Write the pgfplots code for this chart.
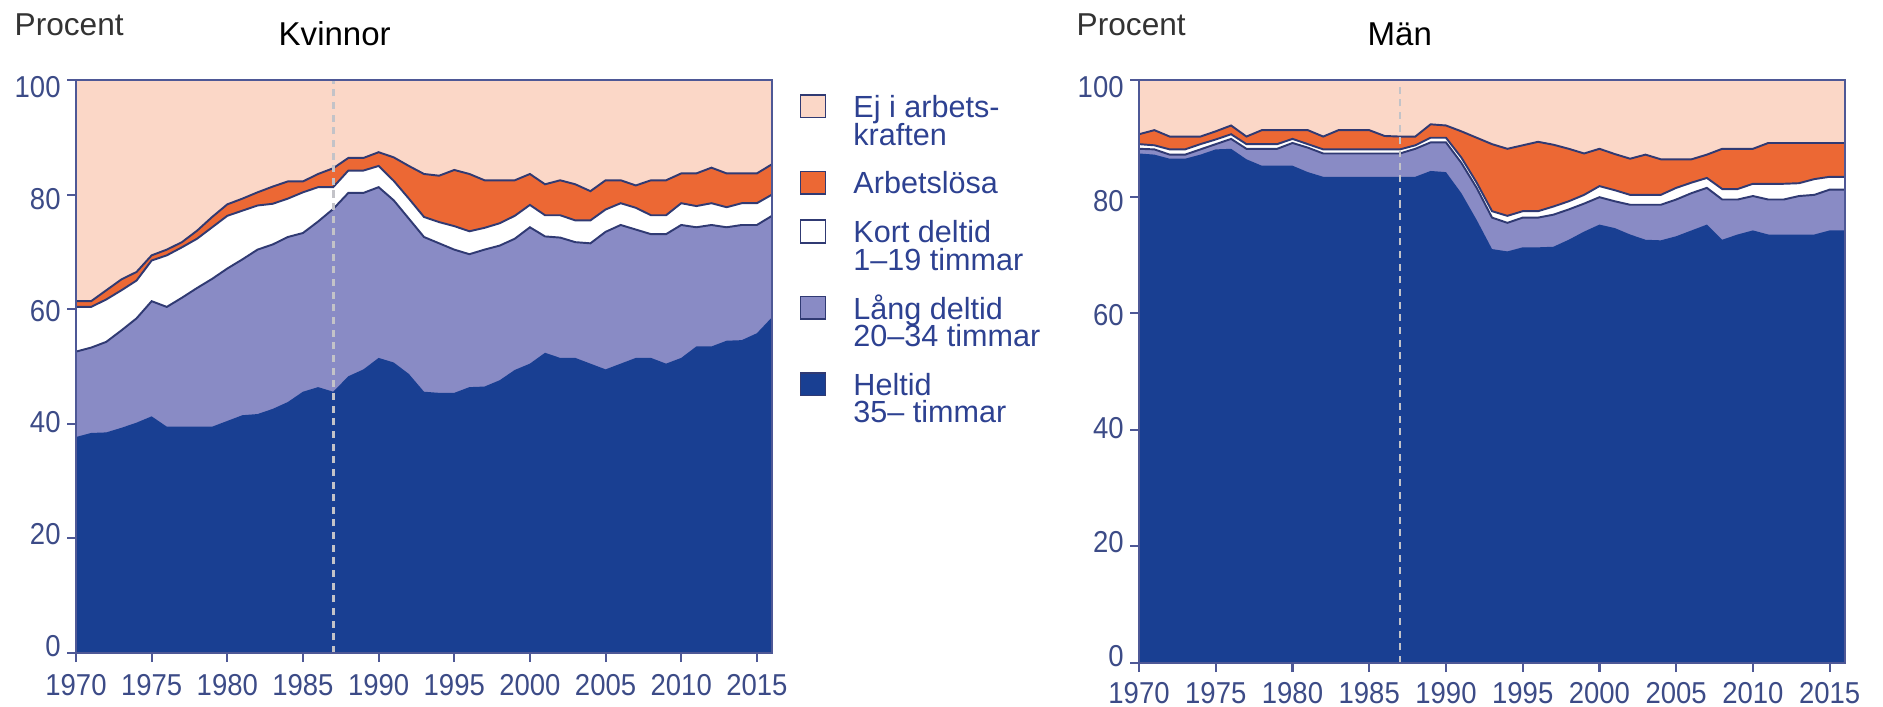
\documentclass[border=0pt]{standalone}
\usepackage{fontspec}
\setmainfont{Liberation Sans}
\newfontfamily\narrowfont[FakeStretch=0.91]{Liberation Sans}
\usepackage{pgfplots}
\pgfplotsset{compat=1.18}
\usepackage{pgfplotstable}

\definecolor{ejcol}{RGB}{251,215,199}
\definecolor{arbcol}{RGB}{236,104,52}
\definecolor{langcol}{RGB}{137,139,197}
\definecolor{helcol}{RGB}{25,63,146}
\definecolor{linecol}{RGB}{48,58,115}
\definecolor{axcol}{RGB}{78,88,150}
\definecolor{tickcol}{RGB}{60,75,135}
\definecolor{legtext}{RGB}{45,65,145}

% cumulative shares (percent): hel = heltid, lang = +lang deltid,
% kort = +kort deltid, arb = +arbetslosa, ej = total incl. ej i arbetskraften
\pgfplotstableread{
year hel  lang kort arb  ej
1970 37.7 52.6 60.4 61.4 100
1971 38.4 53.3 60.4 61.4 100
1972 38.5 54.3 61.7 63.3 100
1973 39.3 56.3 63.3 65.2 100
1974 40.2 58.4 65.0 66.5 100
1975 41.3 61.4 68.5 69.4 100
1976 39.5 60.4 69.4 70.4 100
1977 39.5 62.0 70.8 71.7 100
1978 39.5 63.7 72.3 73.7 100
1979 39.5 65.3 74.3 76.1 100
1980 40.5 67.1 76.3 78.3 100
1981 41.5 68.7 77.2 79.3 100
1982 41.7 70.4 78.1 80.4 100
1983 42.6 71.3 78.4 81.4 100
1984 43.8 72.6 79.3 82.3 100
1985 45.6 73.3 80.4 82.3 100
1986 46.4 75.3 81.3 83.6 100
1987 45.6 77.5 81.3 84.6 100
1988 48.3 80.3 84.2 86.4 100
1989 49.5 80.3 84.2 86.4 100
1990 51.5 81.3 85.0 87.4 100
1991 50.7 79.0 82.4 86.5 100
1992 48.7 75.8 79.3 85.0 100
1993 45.6 72.6 76.1 83.6 100
1994 45.4 71.5 75.2 83.3 100
1995 45.4 70.4 74.5 84.3 100
1996 46.4 69.6 73.6 83.6 100
1997 46.5 70.4 74.2 82.5 100
1998 47.6 71.1 75.0 82.5 100
1999 49.4 72.3 76.3 82.5 100
2000 50.5 74.3 78.2 83.6 100
2001 52.4 72.7 76.4 81.8 100
2002 51.5 72.5 76.4 82.5 100
2003 51.5 71.7 75.5 81.8 100
2004 50.5 71.5 75.5 80.6 100
2005 49.5 73.5 77.4 82.5 100
2006 50.5 74.7 78.5 82.5 100
2007 51.5 73.9 77.7 81.6 100
2008 51.5 73.1 76.4 82.5 100
2009 50.5 73.1 76.4 82.5 100
2010 51.5 74.7 78.5 83.7 100
2011 53.5 74.3 78.0 83.7 100
2012 53.5 74.7 78.5 84.7 100
2013 54.5 74.3 77.8 83.7 100
2014 54.6 74.7 78.5 83.7 100
2015 55.8 74.7 78.5 83.7 100
2016 58.6 76.3 80.0 85.3 100
}\kvinnor

\pgfplotstableread{
year hel  lang kort arb  ej
1970 87.4 88.2 89.0 90.7 100
1971 87.2 88.1 88.8 91.4 100
1972 86.5 87.2 88.1 90.3 100
1973 86.5 87.2 88.1 90.3 100
1974 87.2 88.1 89.0 90.3 100
1975 88.1 89.0 89.8 91.2 100
1976 88.2 89.9 90.7 92.2 100
1977 86.4 88.2 89.0 90.3 100
1978 85.3 88.2 89.0 91.4 100
1979 85.3 88.2 89.0 91.4 100
1980 85.3 89.2 89.9 91.4 100
1981 84.2 88.4 89.0 91.4 100
1982 83.4 87.4 88.1 90.3 100
1983 83.4 87.4 88.1 91.4 100
1984 83.4 87.4 88.1 91.4 100
1985 83.4 87.4 88.1 91.4 100
1986 83.4 87.4 88.1 90.4 100
1987 83.4 87.4 88.1 90.3 100
1988 83.4 88.2 88.8 90.3 100
1989 84.4 89.3 90.1 92.4 100
1990 84.2 89.3 90.1 92.2 100
1991 80.6 85.8 86.7 91.2 100
1992 76.0 81.5 82.4 90.1 100
1993 71.0 76.4 77.5 89.0 100
1994 70.6 75.5 76.7 88.2 100
1995 71.3 76.4 77.5 88.8 100
1996 71.3 76.4 77.5 89.4 100
1997 71.4 76.9 78.3 88.9 100
1998 72.6 77.8 79.2 88.2 100
1999 74.0 78.8 80.3 87.4 100
2000 75.2 79.9 81.8 88.2 100
2001 74.6 79.2 81.1 87.3 100
2002 73.5 78.6 80.3 86.5 100
2003 72.6 78.6 80.3 87.2 100
2004 72.5 78.6 80.3 86.4 100
2005 73.2 79.5 81.5 86.4 100
2006 74.2 80.6 82.4 86.4 100
2007 75.2 81.5 83.2 87.2 100
2008 72.6 79.5 81.3 88.2 100
2009 73.5 79.5 81.3 88.2 100
2010 74.2 80.1 82.2 88.2 100
2011 73.5 79.5 82.2 89.2 100
2012 73.5 79.5 82.2 89.2 100
2013 73.5 80.1 82.3 89.2 100
2014 73.5 80.3 83.0 89.2 100
2015 74.2 81.2 83.4 89.2 100
2016 74.2 81.2 83.4 89.2 100
}\man

\pgfplotsset{
  panel/.style={
    scale only axis,
    xmin=1970, xmax=2016, ymin=0, ymax=100,
    xtick={1970,1975,...,2015}, ytick={0,20,...,100},
    tick align=outside, major tick length=0.09cm,
    xtick pos=bottom, ytick pos=left,
    axis line style={axcol, line width=0.6pt},
    tick style={axcol, line width=0.6pt},
    /pgf/number format/assume math mode=true,
    tick label style={font=\narrowfont\fontsize{8.6}{10}\selectfont, text=tickcol},
    x tick label style={/pgf/number format/1000 sep={}},
    yticklabel={\raisebox{\fpeval{(50-\tick)*0.0014}cm}[\height][\depth]{\pgfmathprintnumber{\tick}}},
    y tick label style={xshift=0.06cm},
    axis on top,
  },
  legsq/.style={legend image code/.code={%
    \fill[#1] (0cm,0cm) rectangle (0.25cm,0.225cm);
    \draw[linecol, line width=0.45pt] (0cm,0cm) rectangle (0.25cm,0.225cm);}},
  edge/.style={linecol, line width=0.55pt, forget plot},
  brk/.style={forget plot, color={rgb,255:red,195;green,195;blue,200}, line width=0.8pt, dash pattern=on 2pt off 1.6pt},
}
\newcommand{\gap}{\rule{0pt}{12.4pt}}

\begin{document}
\begin{tikzpicture}
\useasboundingbox (0,0) rectangle (18.83,7.06);

\begin{axis}[panel,
  at={(0.76cm,0.53cm)}, anchor=south west,
  width=6.96cm, height=5.73cm,
  legend style={at={(1.04,0.975)}, anchor=north west, draw=none, fill=none,
    inner sep=0pt, outer sep=0pt, row sep=0pt, column sep=0.27cm,
    nodes={inner sep=0pt}, cells={anchor=base west},
    font=\fontsize{8.7}{8.8}\selectfont, text=legtext},
]
\addplot[draw=none, fill=ejcol, forget plot] table[x=year, y=ej] {\kvinnor} \closedcycle;
\addplot[draw=none, fill=arbcol, forget plot] table[x=year, y=arb] {\kvinnor} \closedcycle;
\addplot[draw=none, fill=white, forget plot] table[x=year, y=kort] {\kvinnor} \closedcycle;
\addplot[draw=none, fill=langcol, forget plot] table[x=year, y=lang] {\kvinnor} \closedcycle;
\addplot[draw=none, fill=helcol, forget plot] table[x=year, y=hel] {\kvinnor} \closedcycle;
\addplot[edge] table[x=year, y=lang] {\kvinnor};
\addplot[edge] table[x=year, y=kort] {\kvinnor};
\addplot[edge] table[x=year, y=arb] {\kvinnor};
\addplot[brk] coordinates {(1987,0) (1987,100)};

\addlegendimage{legsq=ejcol}\addlegendentry{Ej i arbets-}
\addlegendimage{empty legend}\addlegendentry{kraften}
\addlegendimage{legsq=arbcol}\addlegendentry{\gap Arbetslösa}
\addlegendimage{legsq=white}\addlegendentry{\gap Kort deltid}
\addlegendimage{empty legend}\addlegendentry{1–19 timmar}
\addlegendimage{legsq=langcol}\addlegendentry{\gap Lång deltid}
\addlegendimage{empty legend}\addlegendentry{20–34 timmar}
\addlegendimage{legsq=helcol}\addlegendentry{\gap Heltid}
\addlegendimage{empty legend}\addlegendentry{35– timmar}
\end{axis}

\begin{axis}[panel,
  at={(11.39cm,0.43cm)}, anchor=south west,
  width=7.06cm, height=5.83cm,
  x tick label style={yshift=0.02cm},
]
\addplot[draw=none, fill=ejcol] table[x=year, y=ej] {\man} \closedcycle;
\addplot[draw=none, fill=arbcol] table[x=year, y=arb] {\man} \closedcycle;
\addplot[draw=none, fill=white] table[x=year, y=kort] {\man} \closedcycle;
\addplot[draw=none, fill=langcol] table[x=year, y=lang] {\man} \closedcycle;
\addplot[draw=none, fill=helcol] table[x=year, y=hel] {\man} \closedcycle;
\addplot[edge] table[x=year, y=lang] {\man};
\addplot[edge] table[x=year, y=kort] {\man};
\addplot[edge] table[x=year, y=arb] {\man};
\addplot[brk] coordinates {(1987,0) (1987,100)};
\end{axis}

\begin{scope}[every node/.style={inner sep=0pt, anchor=base west}]
\node[font=\fontsize{9}{10}\selectfont, text=black!80] at (0.14,6.71) {Procent};
\node[font=\fontsize{9.4}{10}\selectfont] at (2.78,6.61) {Kvinnor};
\node[font=\fontsize{9}{10}\selectfont, text=black!80] at (10.76,6.71) {Procent};
\node[font=\fontsize{9.4}{10}\selectfont] at (13.67,6.61) {Män};
\end{scope}
\end{tikzpicture}
\end{document}
